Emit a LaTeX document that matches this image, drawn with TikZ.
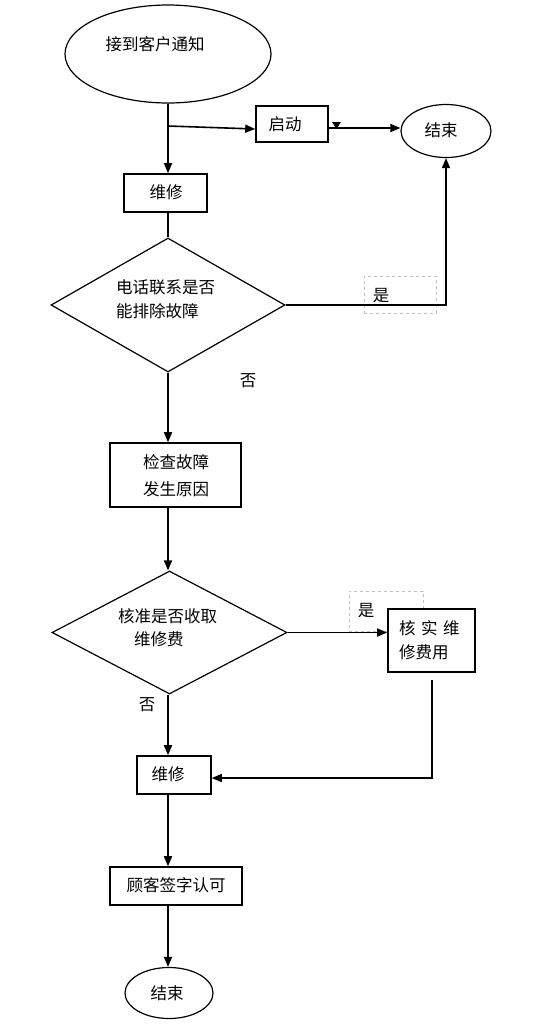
\documentclass[tikz,border=0pt]{standalone}
\usepackage{fontspec}
\setmainfont{Liberation Sans}
\newfontfamily\cjk{Noto Sans CJK SC}
\usetikzlibrary{shapes.geometric,arrows.meta}
\begin{document}
\begin{tikzpicture}[x=1pt,y=-1pt,
  every node/.style={font=\cjk\fontsize{16.5}{19}\selectfont, inner sep=0pt},
  box/.style={draw, line width=1.6pt, fill=white},
  oval/.style={draw, ellipse, line width=1.2pt, fill=white},
  dia/.style={draw, diamond, line width=1.2pt},
  ghost/.style={draw=gray!50, dashed, line width=0.5pt},
  conn/.style={line width=1.6pt},
  arr/.style={conn, -{Triangle[length=10pt,width=8pt]}}]
\useasboundingbox (0,0) rectangle (546,1028);

% dashed label boxes (behind)
\node[ghost, minimum width=72pt, minimum height=37pt] (g1) at (400,294.5) {};
\node[ghost, minimum width=74pt, minimum height=40pt] (g2) at (386,611) {};

% nodes
\node[oval, minimum width=206pt, minimum height=98pt] (start) at (168,54) {};
\node (starttxt) at (155,44) {接到客户通知};

\node[box, minimum width=72pt, minimum height=36pt] (qd) at (292,124) {};
\node (qdtxt) at (285,124) {启动};

\node[oval, minimum width=90pt, minimum height=53pt] (end1) at (446,131) {};
\node (end1txt) at (441,130) {结束};

\node[box, minimum width=83pt, minimum height=38pt] (wx1) at (165.5,193) {};
\node (wx1txt) at (166,192) {维修};

\node[dia, minimum width=234pt, minimum height=134pt] (d1) at (168,305) {};
\node[anchor=west, align=left] (d1txt) at (116,299) {电话联系是否\\[5pt]能排除故障};

\node[box, minimum width=131pt, minimum height=64pt] (jc) at (175.5,475) {};
\node[align=center] (jctxt) at (176,476) {检查故障\\[8pt]发生原因};

\node[dia, minimum width=235pt, minimum height=123pt] (d2) at (169.5,632.5) {};
\node[anchor=west] (d2t1) at (118,616) {核准是否收取};
\node[anchor=west] (d2t2) at (134,639) {维修费};

\node[box, minimum width=87pt, minimum height=63pt] (hs) at (431.5,640.5) {};
\node[anchor=west] (hst1) at (399,628) {核\,\,实\,\,维};
\node[anchor=west] (hst2) at (399,652) {修费用};

\node[box, minimum width=74pt, minimum height=38pt] (wx2) at (174,775) {};
\node (wx2txt) at (168,774) {维修};

\node[box, minimum width=132pt, minimum height=38pt] (gk) at (176,886) {};
\node (gktxt) at (176,885) {顾客签字认可};

\node[oval, minimum width=88pt, minimum height=51pt] (end2) at (169,993) {};
\node (end2txt) at (167,993) {结束};

% labels
\node (y1) at (381,296) {是};
\node (n1) at (248,381) {否};
\node (y2) at (366,611) {是};
\node (n2) at (147,705) {否};

% connectors
\coordinate (br) at (168,126);
\coordinate (c1) at (446,305);
\coordinate (c2) at (432,680);
\coordinate (c3) at (432,778);
\coordinate (c4) at (328,128);
\draw[conn] (start.south) -- (br);
\draw[arr] (br) -- (br |- wx1.north);
\draw[arr] (br) -- (qd.west |- 0,129);
\draw[arr] (c4) -- (end1.west |- c4);
\fill (332,122) -- (341,122) -- (336.5,129) -- cycle;
\draw[conn] (br |- wx1.south) -- (d1.north);
\draw[arr] (d1.east) -- (c1) -- (end1.south);
\draw[arr] (d1.south) -- (jc.north -| d1.south);
\draw[arr] (jc.south -| d1.south) -- (d2.north -| d1.south);
\draw[arr] (d2.east) -- (hs.west |- d2.east);
\draw[arr] (d2.south -| d1.south) -- (wx2.north -| d1.south);
\draw[arr] (c2) -- (c3) -- (wx2.east |- c3);
\draw[arr] (wx2.south -| d1.south) -- (gk.north -| d1.south);
\draw[arr] (gk.south -| d1.south) -- (end2.north -| d1.south);
\end{tikzpicture}
\end{document}
